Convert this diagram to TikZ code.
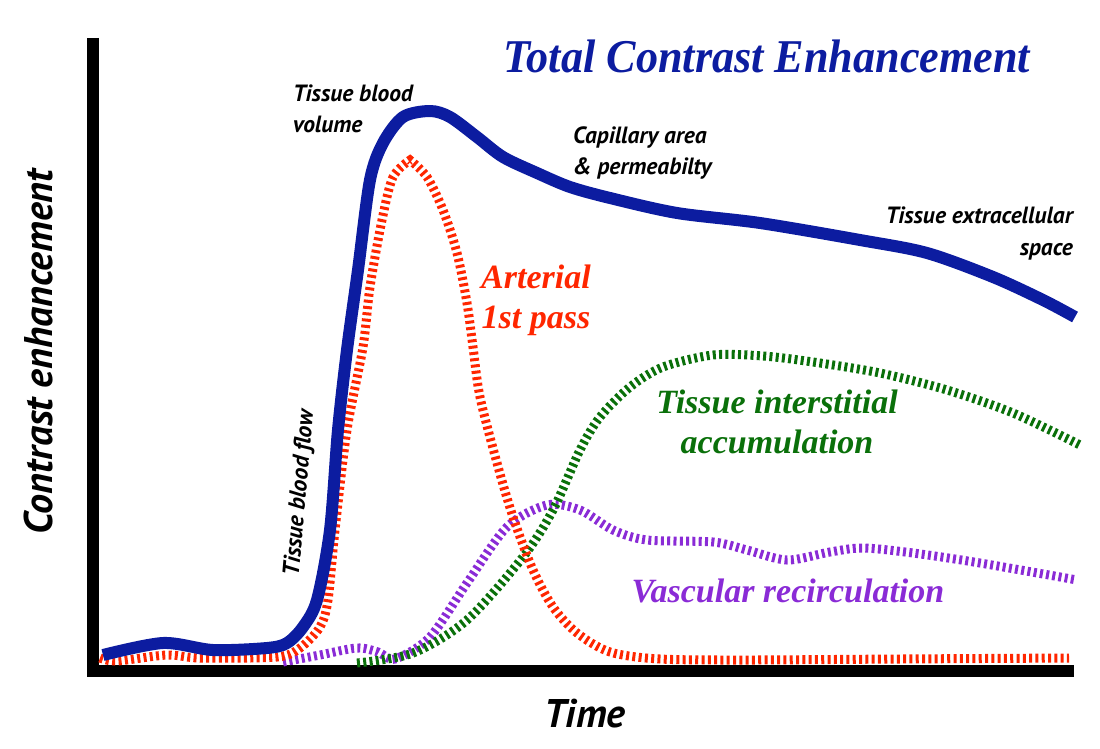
\documentclass[tikz,border=0pt]{standalone}
\usepackage{fontspec}
\setmainfont{Liberation Serif}
\setsansfont{PT Sans}
\newfontfamily\titleserif{Liberation Serif}[FakeStretch=0.94]
\usepackage{tikz}
\usetikzlibrary{positioning}

\definecolor{totblue}{RGB}{12,28,160}
\definecolor{artred}{RGB}{255,38,0}
\definecolor{intgreen}{RGB}{10,112,10}
\definecolor{recpurple}{RGB}{138,43,214}

\begin{document}
\begin{tikzpicture}[
    x=1pt, y=-1pt,
    axis/.style={line width=12pt, line join=miter},
    totcurve/.style={totblue, line width=12pt, line join=round},
    dashcurve/.style={line width=9pt, dash pattern=on 3pt off 3.3pt},
    smalllbl/.style={font=\sffamily\bfseries\itshape\fontsize{23.5}{32}\selectfont, inner sep=0pt},
    axislbl/.style={font=\sffamily\bfseries\itshape\fontsize{40}{48}\selectfont, inner sep=0pt},
    curvelbl/.style={font=\bfseries\itshape\fontsize{34}{40}\selectfont, inner sep=0pt, align=center}
]
\useasboundingbox (0,0) rectangle (1100,749);

% Axes
\draw[axis] (93,38) -- (93,671) -- (1074,671);

% Vascular recirculation
\draw[dashcurve, recpurple] plot[smooth] coordinates {(283,662) (320,655) (357,648) (378,652) (395,659) (430,637) (467,583) (507,527) (547,505) (580,510) (613,530) (647,540) (713,542) (747,550) (787,560) (830,552) (863,548) (913,553) (980,563) (1077,580)};

% Tissue interstitial accumulation
\draw[dashcurve, intgreen] plot[smooth] coordinates {(357,663) (413,653) (467,620) (523,557) (553,510) (580,450) (600,417) (630,387) (663,367) (713,355) (763,356) (813,362) (880,373) (947,390) (1013,413) (1080,445)};

% Arterial 1st pass (pointed peak)
\draw[dashcurve, artred] plot[smooth] coordinates {(100,658) (117,661) (167,655) (200,658) (277,657) (300,648) (320,627) (328,600) (335,530) (347,430) (363,347) (370,287) (382,220) (393,177) (410,160)}
  -- plot[smooth] coordinates {(410,160) (427,177) (443,210) (457,253) (467,303) (473,347) (480,397) (497,463) (513,517) (533,570) (553,607) (577,633) (610,652) (660,659) (750,660) (900,659) (1069,658)};

% Total contrast enhancement
\draw[totcurve] plot[smooth] coordinates {(103,655) (163,643) (213,650) (267,648) (287,643) (303,627) (317,600) (330,530) (338,430) (347,350) (358,270) (370,180) (383,143) (403,117) (430,111) (450,117) (477,137) (503,157) (537,173) (570,187) (610,198) (677,213) (760,223) (860,240) (927,253) (993,277) (1043,300) (1075,317)};

% Labels (base = last line)
\node[curvelbl, totblue, font=\titleserif\bfseries\itshape\fontsize{47}{52}\selectfont, anchor=base] (title) at (767,73) {Total Contrast Enhancement};
\node[smalllbl, align=left, anchor=base west] (volume) at (293,133) {Tissue blood\\volume};
\node[smalllbl, align=left, anchor=base west] (capillary) at (573,175) {Capillary area\\\& permeabilty};
\node[smalllbl, align=right, anchor=base east] (extracell) at (1073,255) {Tissue extracellular\\space};
\node[smalllbl, rotate=85] (flow) at (300,493) {Tissue blood flow};
\node[curvelbl, artred, anchor=base] (arterial) at (536,328) {Arterial\\1st pass};
\node[curvelbl, intgreen, anchor=base] (interstitial) at (777,453) {Tissue interstitial\\accumulation};
\node[curvelbl, recpurple, anchor=base] (recirc) at (788,602) {Vascular recirculation};
\node[axislbl, rotate=90] (ylabel) at (38,352) {Contrast enhancement};
\node[axislbl, anchor=base] (xlabel) at (585,727) {Time};
\end{tikzpicture}
\end{document}
